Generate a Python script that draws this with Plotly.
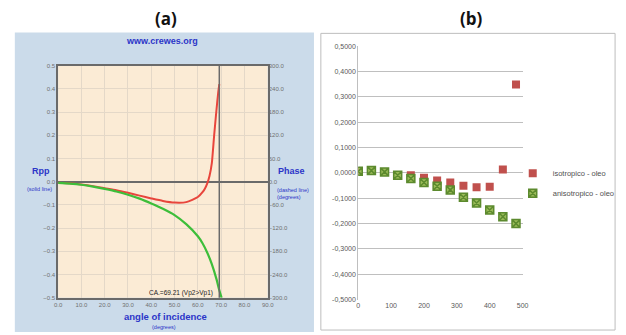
import plotly.graph_objects as go

# ---------------- data: panel (a) ----------------
angle_red = [0, 5, 10, 15, 20, 25, 30, 35, 40, 45, 50, 55, 60, 62, 63, 64, 65, 66, 67, 68, 68.7, 69.21]
rpp_red = [-0.005, -0.007, -0.012, -0.019, -0.028, -0.037, -0.048, -0.060, -0.072, -0.083, -0.090,
           -0.088, -0.066, -0.045, -0.030, -0.008, 0.025, 0.080, 0.200, 0.310, 0.380, 0.420]
angle_green = [0, 5, 10, 15, 20, 25, 30, 35, 40, 45, 50, 55, 60, 62, 64, 66, 68, 69, 70.2]
rpp_green = [-0.005, -0.008, -0.013, -0.021, -0.031, -0.042, -0.056, -0.073, -0.094, -0.117, -0.144,
             -0.183, -0.235, -0.265, -0.305, -0.355, -0.420, -0.460, -0.500]
critical_angle = 69.21
phase_range = [-300, 300]

# ---------------- data: panel (b) ----------------
offset_b = [0, 40, 80, 120, 160, 200, 240, 280, 320, 360, 400, 440, 480]
iso_oleo = [0.006, 0.009, 0.004, -0.008, -0.009, -0.019, -0.030, -0.038, -0.051, -0.057, -0.055, 0.013, 0.349]
aniso_oleo = [0.006, 0.009, 0.004, -0.009, -0.022, -0.038, -0.053, -0.067, -0.096, -0.119, -0.146, -0.173, -0.200]
y_ticks_b = [0.5, 0.4, 0.3, 0.2, 0.1, 0.0, -0.1, -0.2, -0.3, -0.4, -0.5]
y_labels_b = ["0,5000", "0,4000", "0,3000", "0,2000", "0,1000", "0,0000",
              "-0,1000", "-0,2000", "-0,3000", "-0,4000", "-0,5000"]
x_ticks_b = [0, 100, 200, 300, 400, 500]

W, H = 626, 335
def px(x):
    return x / W
def py(y):
    return 1 - y / H

BLUE = "#2B35C8"
FONT = "Liberation Sans"

fig = go.Figure()

# panel (a) curves
fig.add_trace(go.Scatter(x=angle_red, y=rpp_red, mode="lines", line=dict(color="#E8453C", width=2, shape="spline", smoothing=0.6),
                         xaxis="x", yaxis="y", showlegend=False, hoverinfo="skip"))
fig.add_trace(go.Scatter(x=angle_green, y=rpp_green, mode="lines", line=dict(color="#3DBE3A", width=2.2, shape="spline", smoothing=0.6),
                         xaxis="x", yaxis="y", showlegend=False, hoverinfo="skip"))
# empty trace so that the phase axis (right side) is drawn
fig.add_trace(go.Scatter(x=[], y=[], mode="lines", xaxis="x", yaxis="y3", showlegend=False, hoverinfo="skip"))

# panel (b) markers
fig.add_trace(go.Scatter(x=offset_b, y=iso_oleo, mode="markers", name="isotropico - oleo",
                         marker=dict(symbol="square", size=8, color="#C0504D", line=dict(width=0)),
                         xaxis="x2", yaxis="y2", legendgroup="a"))
fig.add_trace(go.Scatter(x=offset_b, y=aniso_oleo, mode="markers", name="anisotropico - oleo",
                         marker=dict(symbol="square-x", size=8, color="#9BBB59", line=dict(width=1.5, color="#5C8A2E")),
                         xaxis="x2", yaxis="y2", legendgroup="b"))

tick_a = dict(size=6, color="#707070", family=FONT)
tick_b = dict(size=7, color="#595959", family=FONT)

fig.update_layout(
    width=W, height=H, autosize=False,
    margin=dict(l=0, r=0, t=0, b=0),
    paper_bgcolor="white",
    plot_bgcolor="rgba(0,0,0,0)",
    font=dict(family=FONT),
    xaxis=dict(domain=[px(55), px(268)], range=[0, 90], dtick=10, tickformat=".1f", tickfont=tick_a,
               showgrid=True, gridcolor="#E4D8C8", gridwidth=1, showline=True, mirror=True,
               linecolor="#6A6A6A", linewidth=1.5, zeroline=False, ticks="", anchor="y"),
    yaxis=dict(domain=[py(300), py(63)], range=[-0.5, 0.5], dtick=0.1, tickformat=".1f", tickfont=tick_a,
               showgrid=True, gridcolor="#E4D8C8", gridwidth=1, showline=True, mirror=True,
               linecolor="#6A6A6A", linewidth=1.5, zeroline=True, zerolinecolor="#6A6A6A", zerolinewidth=1.5,
               ticks="", anchor="x"),
    yaxis3=dict(overlaying="y", side="right", anchor="x", range=phase_range, dtick=60, tickformat=".1f",
                tickfont=tick_a, showgrid=False, zeroline=False, showline=False, ticks=""),
    xaxis2=dict(domain=[px(360), px(527)], range=[0, 500], tickvals=x_ticks_b, tickfont=tick_b,
                showgrid=False, zeroline=False, showline=False, ticks="", anchor="y2"),
    yaxis2=dict(domain=[py(302), py(43)], range=[-0.5, 0.5], tickvals=y_ticks_b, ticktext=y_labels_b,
                tickfont=tick_b, showgrid=True, gridcolor="#BFBFBF", gridwidth=1, zeroline=False,
                showline=True, linecolor="#BFBFBF", linewidth=1, ticks="", anchor="x2"),
    legend=dict(x=px(517), y=py(158), xanchor="left", yanchor="top", font=dict(size=7.5, color="#505050", family=FONT),
                bgcolor="rgba(0,0,0,0)", tracegroupgap=1, traceorder="grouped"),
)

# panel backgrounds
fig.add_shape(type="rect", xref="paper", yref="paper", x0=px(11), x1=px(315), y0=py(335), y1=py(29),
              fillcolor="#CBDBEA", line=dict(width=0), layer="below")
fig.add_shape(type="rect", xref="x domain", yref="y domain", x0=0, x1=1, y0=0, y1=1,
              fillcolor="#FBEBD5", line=dict(width=0), layer="below")
fig.add_shape(type="rect", xref="paper", yref="paper", x0=px(322), x1=px(621), y0=py(333), y1=py(30),
              fillcolor="white", line=dict(width=1, color="#BDBDBD"), layer="below")
# critical angle line
fig.add_shape(type="line", xref="x", yref="y domain", x0=critical_angle, x1=critical_angle, y0=0, y1=1,
              line=dict(color="#6A6A6A", width=1.5), layer="above")

def ann(text, x, y, size, color, bold=False, xanchor="center", family=FONT):
    fig.add_annotation(text=f"<b>{text}</b>" if bold else text, x=px(x), y=py(y), xref="paper", yref="paper",
                       showarrow=False, xanchor=xanchor, yanchor="middle", font=dict(size=size, color=color, family=family))

ann("(a)", 165, 15, 17, "#111111", bold=True, family="Open Sans")
ann("(b)", 475, 15, 17, "#111111", bold=True, family="Open Sans")
ann("www.crewes.org", 161, 38, 9, BLUE, bold=True)
ann("Rpp", 38, 171, 9, BLUE, bold=True)
ann("(solid line)", 36, 189, 5.5, BLUE)
ann("Phase", 292, 171, 9, BLUE, bold=True)
ann("(dashed line)", 294, 190, 5.5, BLUE)
ann("(degrees)", 290, 197, 5.5, BLUE)
ann("angle of incidence", 164, 319, 9.5, BLUE, bold=True)
ann("(degrees)", 163, 330, 5.5, BLUE)
ann(f"CA.={critical_angle} (Vp2&gt;Vp1)", 180, 295, 6.5, "#222222")

post = (
    "document.documentElement.style.margin='0';"
    "document.documentElement.style.overflow='hidden';"
    "document.body.style.margin='0';"
    "document.body.style.padding='0';"
    "document.body.style.overflow='hidden';"
    "var d=document.getElementsByClassName('plotly-graph-div')[0];"
    "d.style.position='absolute';d.style.left='0px';d.style.top='0px';"
)
fig.write_html("out.html", config={"displayModeBar": False, "responsive": False}, post_script=post)
